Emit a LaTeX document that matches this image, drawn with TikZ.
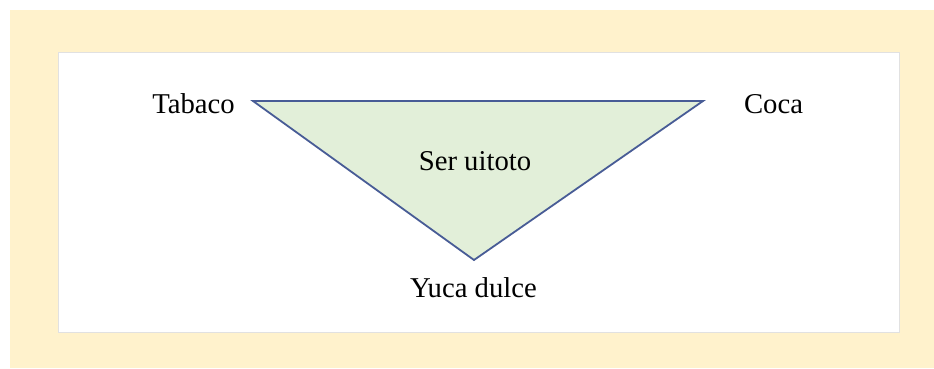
\documentclass[tikz,border=0pt]{standalone}
\usepackage{fontspec}
\setmainfont{Liberation Serif}
\definecolor{frameCream}{RGB}{255,242,204}
\definecolor{leafGreen}{RGB}{226,239,217}
\definecolor{edgeBlue}{RGB}{72,92,150}
\definecolor{paperGray}{RGB}{225,225,225}
\usetikzlibrary{positioning,calc}
\begin{document}
\begin{tikzpicture}[x=1pt, y=-1pt, every node/.style={font=\fontsize{28.7}{32}\selectfont, inner sep=0pt, anchor=base}]
  % Background and frame
  \useasboundingbox (0,0) rectangle (934,368);
  \fill[white] (0,0) rectangle (934,368);
  \fill[frameCream] (10,10) rectangle (934,368);
  \draw[paperGray, fill=white, line width=0.8pt] (58,52) rectangle (899,332);
  % Triangle
  \coordinate (left) at (253,101);
  \coordinate (right) at (703,101);
  \coordinate (bottom) at (474,260);
  \draw[edgeBlue, fill=leafGreen, line width=1.8pt, line join=miter] (left) -- (right) -- (bottom) -- cycle;
  % Labels
  \node (tabaco) at (193.5,113) {Tabaco};
  \node (coca) at (773.5,113) {Coca};
  \node (ser) at (475,170) {Ser uitoto};
  \node (yuca) at (473.5,297) {Yuca dulce};
\end{tikzpicture}
\end{document}
